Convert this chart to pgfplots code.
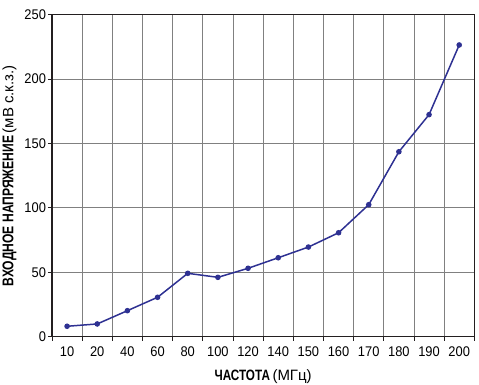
\documentclass[border=0pt]{standalone}
\usepackage{fontspec}
\setmainfont{Liberation Sans}[FakeStretch=0.92]
\newfontfamily\labfont{Liberation Sans}[FakeStretch=0.78]
\newfontfamily\labnorm{Liberation Sans}
\usepackage{pgfplots}
\pgfplotsset{compat=1.18}
\definecolor{navy}{HTML}{2E3192}
\definecolor{gridgray}{HTML}{808080}
\definecolor{frame}{HTML}{231F20}
\begin{document}
\begin{tikzpicture}
\useasboundingbox (-52pt,-48.3pt) rectangle (427pt,336.7pt);
\begin{axis}[
  scale only axis,
  width=422.3pt, height=322pt,
  xmin=-0.5, xmax=13.5, ymin=0, ymax=250,
  axis line style={frame, line width=1.6pt},
  xtick={-0.5,0.5,...,13.5},
  xticklabels={},
  ytick={0,50,...,250},
  tick pos=left,
  tick align=outside,
  major tick length=4pt,
  tick style={frame, line width=0.8pt},
  xmajorgrids, ymajorgrids,
  grid style={gridgray, line width=0.9pt},
  extra x ticks={0,1,...,13},
  extra x tick labels={10,20,40,60,80,100,120,140,150,160,170,180,190,200},
  extra x tick style={major tick length=0pt, grid=none, tick style={draw=none}},
  xticklabel style={font=\fontsize{14}{16}\selectfont, yshift=-6pt},
  yticklabel style={font=\fontsize{14}{16}\selectfont, xshift=1.5pt},
  /pgf/number format/assume math mode=true,
  xlabel={{\labfont\fontsize{15}{17}\selectfont\textbf{ЧАСТОТА}} {\labnorm\fontsize{15}{17}\selectfont(МГц)}},
  ylabel={{\labfont\fontsize{15.5}{17}\selectfont\textbf{ВХОДНОЕ НАПРЯЖЕНИЕ}} {\labnorm\fontsize{15}{17}\selectfont(мВ с.к.з.)}},
  xlabel style={at={(axis description cs:0.5,0)}, anchor=center, yshift=-40pt},
  ylabel style={at={(axis description cs:-0.1006,0.5)}, anchor=center},
  clip=false,
]
\addplot[navy, line width=1.5pt, mark=*, mark size=2pt, mark options={fill=navy, draw=navy}]
coordinates {
(0,8.1) (1,9.9) (2,20.2) (3,30.6) (4,49.2) (5,46.1) (6,53.1)
(7,61.3) (8,69.6) (9,80.7) (10,102.5) (11,143.6) (12,172.4) (13,226.5)
};
\end{axis}
\end{tikzpicture}
\end{document}
